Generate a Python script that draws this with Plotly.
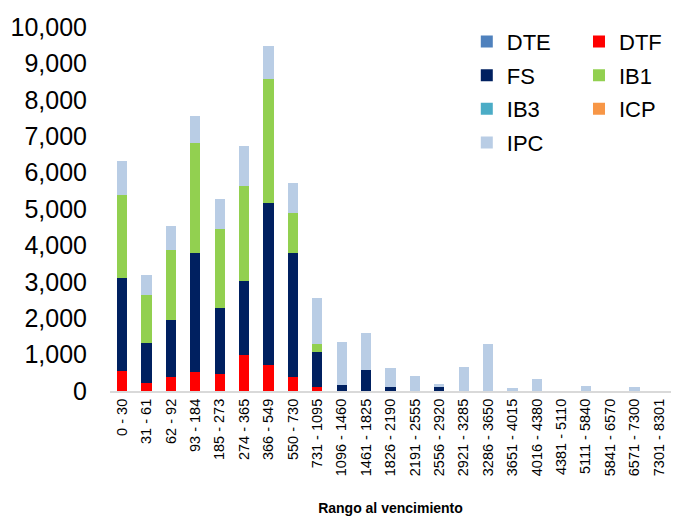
import plotly.graph_objects as go

categories = ["0 - 30", "31 - 61", "62 - 92", "93 - 184", "185 - 273", "274 - 365",
              "366 - 549", "550 - 730", "731 - 1095", "1096 - 1460", "1461 - 1825",
              "1826 - 2190", "2191 - 2555", "2556 - 2920", "2921 - 3285", "3286 - 3650",
              "3651 - 4015", "4016 - 4380", "4381 - 5110", "5111 - 5840", "5841 - 6570",
              "6571 - 7300", "7301 - 8301"]

DTE = [0] * 23
DTF = [550, 230, 390, 520, 480, 1000, 710, 390, 110, 0, 0, 0, 0, 0, 0, 0, 0, 0, 0, 0, 0, 0, 0]
FS = [2550, 1090, 1550, 3270, 1800, 2010, 4460, 3400, 950, 160, 580, 110, 0, 100, 0, 0, 0, 0, 0, 0, 0, 0, 0]
IB1 = [2280, 1320, 1930, 3020, 2180, 2630, 3400, 1100, 220, 0, 0, 0, 0, 0, 0, 0, 0, 0, 0, 0, 0, 0, 0]
IB3 = [0] * 23
ICP = [0] * 23
IPC = [950, 540, 660, 740, 820, 1090, 910, 820, 1270, 1190, 1020, 520, 420, 90, 670, 1280, 90, 320, 0, 140, 0, 110, 0]

series = [
    ("DTE", DTE, "#4F81BD", "legend"),
    ("DTF", DTF, "#FF0000", "legend2"),
    ("FS", FS, "#002060", "legend"),
    ("IB1", IB1, "#92D050", "legend2"),
    ("IB3", IB3, "#4BACC6", "legend"),
    ("ICP", ICP, "#F79646", "legend2"),
    ("IPC", IPC, "#B9CDE5", "legend"),
]

fig = go.Figure()
for name, vals, color, leg in series:
    fig.add_trace(go.Bar(x=categories, y=vals, name=name, marker_color=color,
                         marker_line_width=0, legend=leg, legendgroup=name))

font = "Liberation Sans, Arial, sans-serif"
legend_common = dict(font=dict(family=font, size=22, color="#000000"),
                     bgcolor="rgba(0,0,0,0)", tracegroupgap=2,
                     traceorder="grouped", yanchor="top", xanchor="left",
                     itemclick=False)

fig.update_layout(
    width=683, height=519,
    margin=dict(l=102, r=20, t=19, b=136, autoexpand=False),
    paper_bgcolor="white", plot_bgcolor="white",
    barmode="stack", bargap=0.58,
    font=dict(family=font, color="#000000"),
    legend=dict(x=0.636, y=1.017, **legend_common),
    legend2=dict(x=0.836, y=1.017, **legend_common),
    xaxis=dict(
        tickangle=-90, tickfont=dict(size=14.5, family=font),
        showline=True, linecolor="#D9D9D9", linewidth=2,
        ticks="", showgrid=False,
        title=dict(text="<b>Rango al vencimiento</b>", font=dict(size=14, family=font), standoff=28),
    ),
    yaxis=dict(
        range=[0, 10000], dtick=1000, tickformat=",",
        tickfont=dict(size=25, family=font),
        showgrid=False, zeroline=False, showline=False,
        ticks="", ticklabelstandoff=22,
    ),
)

fig.write_html("out.html")
